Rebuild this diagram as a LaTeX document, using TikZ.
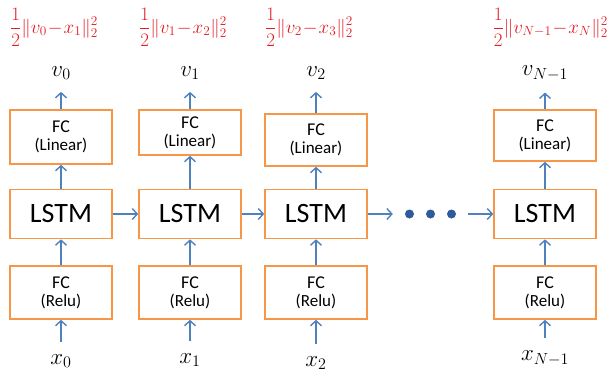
\documentclass[tikz,border=0pt]{standalone}
\usepackage{fix-cm}
\usepackage{amsmath}
\usepackage{fontspec}
\setmainfont{Carlito}
\usetikzlibrary{arrows.meta}
\definecolor{boxorange}{HTML}{F79646}
\definecolor{arrblue}{HTML}{4F81BD}
\definecolor{dotblue}{HTML}{2E5C9A}
\definecolor{lossred}{HTML}{E31B23}
\begin{document}
\begin{tikzpicture}[x=1pt, y=-1pt,
  box/.style={draw=boxorange, line width=1.6pt, minimum width=102pt, align=center, inner sep=0pt},
  lstmbox/.style={box, minimum height=49pt, font=\fontsize{28}{30}\selectfont},
  fcbox/.style={box, font=\fontsize{18}{20}\selectfont},
  lbl/.style={inner sep=12pt, font=\fontsize{23}{25}\selectfont},
  loss/.style={inner sep=0pt, text=lossred, font=\fontsize{19}{22}\selectfont},
  arr/.style={draw=arrblue, line width=1.4pt, -{Straight Barb[length=5pt, width=11pt]}}]
\useasboundingbox (0,0) rectangle (611,372);
\foreach \i/\x/\ly/\lh/\xy/\la/\lx/\n/\m/\k in {0/61/137/54/361/west/10/0/0/1, 1/190/132.5/45/360/west/139/1/1/2, 2/316/140/52/363/west/265/2/2/3, 3/545/135.5/51/358/east/608/{N-1}/{N-1}/N}{
  \node[lstmbox] (lstm\i) at (\x,214) {LSTM};
  \node[fcbox, minimum height=53pt] (relu\i) at (\x,292.5) {FC\\[-2pt]{\fontsize{17}{18}\selectfont(Relu)}};
  \node[fcbox, minimum height=\lh pt] (lin\i) at (\x,\ly) {FC\\[-2pt]{\fontsize{17}{18}\selectfont(Linear)}};
  \node[lbl] (v\i) at (\x,73) {$v_{\n}$};
  \node[lbl] (x\i) at (\x,\xy) {$x_{\m}$};
  \node[loss, anchor=\la] (loss\i) at (\lx,27) {$\medmuskip=1mu\displaystyle\frac{1}{2}\|v_{\n}-x_{\k}\|_2^2$};
  \draw[arr] (x\i) -- (relu\i);
  \draw[arr] (relu\i) -- (lstm\i);
  \draw[arr] (lstm\i) -- (lin\i);
  \draw[arr] (lin\i) -- (v\i);
}
\node[minimum width=75pt, minimum height=10pt, inner sep=0pt] (dots) at (430.5,214) {};
\foreach \d in {-21,0,21}{\fill[dotblue] ([xshift=\d pt]dots.center) circle (4.5pt);}
\draw[arr] (lstm0) -- (lstm1);
\draw[arr] (lstm1) -- (lstm2);
\draw[arr] (lstm2) -- (dots);
\draw[arr] (dots) -- (lstm3);
\end{tikzpicture}
\end{document}
